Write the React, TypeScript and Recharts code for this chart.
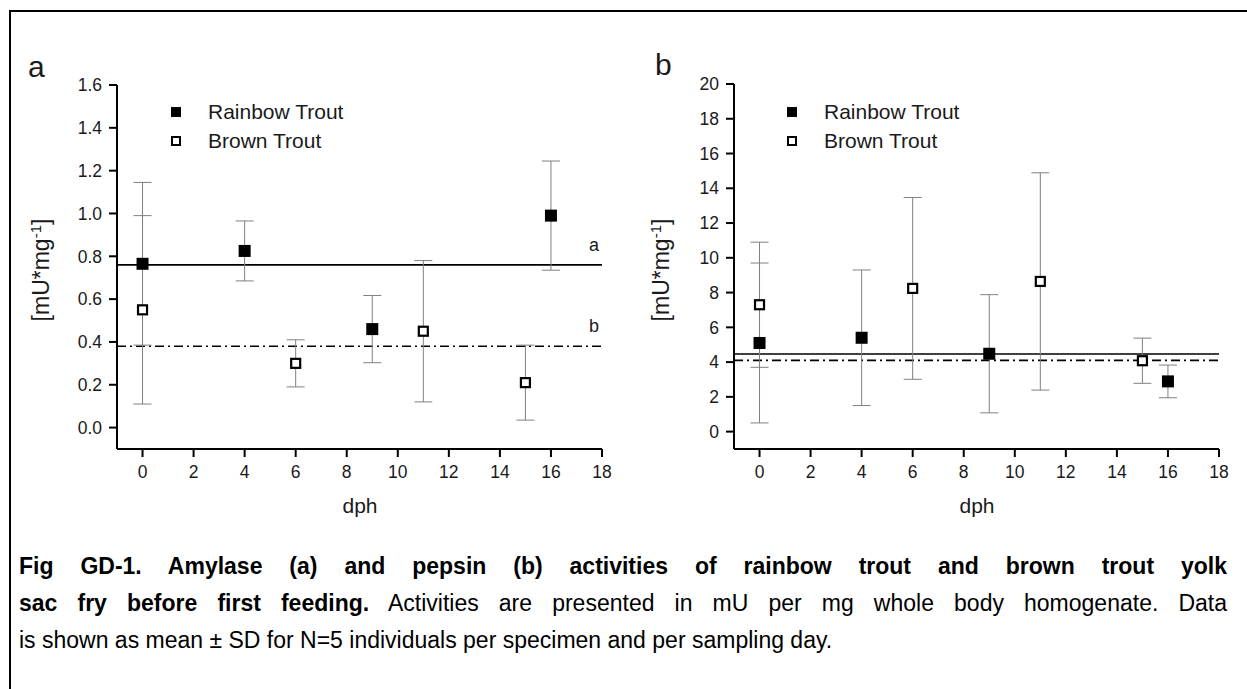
import React from "react";
import { ScatterChart, Scatter, XAxis, YAxis, ErrorBar, ReferenceLine } from "recharts";

const rainbowDays = [0, 4, 9, 16];
const brownDays = [0, 6, 11, 15];

// amylase (panel a), mU/mg, mean and SD
const amylaseRainbow = [0.765, 0.825, 0.46, 0.99];
const amylaseRainbowSd = [0.38, 0.14, 0.157, 0.255];
const amylaseBrown = [0.55, 0.3, 0.45, 0.21];
const amylaseBrownSd = [0.44, 0.11, 0.33, 0.175];
const amylaseMeans = [0.76, 0.38];

// pepsin (panel b)
const pepsinRainbow = [5.1, 5.4, 4.48, 2.89];
const pepsinRainbowSd = [4.6, 3.9, 3.4, 0.94];
const pepsinBrown = [7.3, 8.24, 8.64, 4.08];
const pepsinBrownSd = [3.6, 5.23, 6.25, 1.3];
const pepsinMeans = [4.47, 4.1];

const xTicks = [0, 2, 4, 6, 8, 10, 12, 14, 16, 18];
const amylaseTicks = [0, 0.2, 0.4, 0.6, 0.8, 1.0, 1.2, 1.4, 1.6];
const pepsinTicks = [0, 2, 4, 6, 8, 10, 12, 14, 16, 18, 20];

const FONT = "'Liberation Sans', Arial, sans-serif";
const INK = "#1a1a1a";

const toPoints = (xs: number[], ys: number[], sd: number[]) =>
  xs.map((x, i) => ({ x, y: ys[i], err: sd[i] }));

const FilledSquare = (p: any) => (
  <rect x={p.cx - 6} y={p.cy - 6} width={12} height={12} fill="#000" />
);
const OpenSquare = (p: any) => (
  <rect x={p.cx - 4.5} y={p.cy - 4.5} width={9} height={9} fill="#fff" stroke="#000" strokeWidth={2.2} />
);

const lineTag = (text: string) => (props: any) => {
  const vb = props.viewBox;
  return (
    <text x={vb.x + vb.width - 3} y={vb.y - 14} textAnchor="end" fontSize={18} fontFamily={FONT} fill={INK}>
      {text}
    </text>
  );
};

function Panel(props: {
  left: number;
  width: number;
  margin: { top: number; right: number; left: number; bottom: number };
  yDomain: [number, number];
  yTicks: number[];
  fmt: (v: number) => string;
  rainbow: { x: number; y: number; err: number }[];
  brown: { x: number; y: number; err: number }[];
  means: number[];
  tags: boolean;
}) {
  const axis = { stroke: "#000", strokeWidth: 2 };
  const tick = { fontSize: 17.5, fill: INK, fontFamily: FONT };
  return (
    <div style={{ position: "absolute", left: props.left, top: 0 }}>
      <ScatterChart width={props.width} height={540} margin={props.margin}>
        <XAxis
          type="number"
          dataKey="x"
          domain={[-1, 18]}
          ticks={xTicks}
          axisLine={axis}
          tickLine={axis}
          tickSize={8}
          tickMargin={9}
          tick={tick}
          allowDataOverflow
        />
        <YAxis
          type="number"
          dataKey="y"
          domain={props.yDomain}
          ticks={props.yTicks}
          tickFormatter={props.fmt}
          axisLine={axis}
          tickLine={axis}
          tickSize={8}
          tickMargin={7}
          tick={tick}
          width={60}
          allowDataOverflow
        />
        <ReferenceLine
          y={props.means[0]}
          stroke="#000"
          strokeWidth={1.6}
          label={props.tags ? lineTag("a") : undefined}
        />
        <ReferenceLine
          y={props.means[1]}
          stroke="#000"
          strokeWidth={1.6}
          strokeDasharray="9 4 2 4"
          label={props.tags ? lineTag("b") : undefined}
        />
        <Scatter data={props.rainbow} shape={FilledSquare} isAnimationActive={false}>
          <ErrorBar dataKey="err" direction="y" width={9} stroke="#808080" strokeWidth={1} />
        </Scatter>
        <Scatter data={props.brown} shape={OpenSquare} isAnimationActive={false}>
          <ErrorBar dataKey="err" direction="y" width={9} stroke="#808080" strokeWidth={1} />
        </Scatter>
      </ScatterChart>
    </div>
  );
}

function LegendBox({ left, top }: { left: number; top: number }) {
  const row = { display: "flex", alignItems: "center", height: 29 } as const;
  return (
    <div style={{ position: "absolute", left, top, fontFamily: FONT, fontSize: 21, color: INK }}>
      <div style={row}>
        <svg width={37} height={12}>
          <rect x={0} y={1} width={10} height={10} fill="#000" />
        </svg>
        <span>Rainbow Trout</span>
      </div>
      <div style={row}>
        <svg width={37} height={12}>
          <rect x={1} y={2} width={8} height={8} fill="#fff" stroke="#000" strokeWidth={2} />
        </svg>
        <span>Brown Trout</span>
      </div>
    </div>
  );
}

function YTitle({ cx, cy }: { cx: number; cy: number }) {
  return (
    <div
      style={{
        position: "absolute",
        left: cx - 100,
        top: cy - 14,
        width: 200,
        height: 28,
        lineHeight: "28px",
        textAlign: "center",
        transform: "rotate(-90deg)",
        fontFamily: FONT,
        fontSize: 23,
        color: INK,
      }}
    >
      [mU*mg<sup style={{ fontSize: 15, verticalAlign: "8px", lineHeight: 0 }}>-1</sup>]
    </div>
  );
}

const abs = (left: number, top: number, extra: React.CSSProperties = {}): React.CSSProperties => ({
  position: "absolute",
  left,
  top,
  fontFamily: FONT,
  color: INK,
  ...extra,
});

export default function App() {
  const capLine: React.CSSProperties = {
    fontFamily: FONT,
    fontSize: 23,
    lineHeight: "37px",
    height: 37,
    whiteSpace: "nowrap",
    textAlign: "justify",
    textAlignLast: "justify",
    color: "#000",
  };
  return (
    <div style={{ position: "absolute", left: 0, top: 0, width: 1247, height: 689, background: "#fff", overflow: "hidden" }}>
      <div style={{ position: "absolute", left: 9, top: 10, width: 1250, height: 700, borderTop: "2px solid #000", borderLeft: "2px solid #000" }} />

      <Panel
        left={0}
        width={640}
        margin={{ top: 85, right: 38, left: 57, bottom: 61 }}
        yDomain={[-0.1, 1.6]}
        yTicks={amylaseTicks}
        fmt={(v) => v.toFixed(1)}
        rainbow={toPoints(rainbowDays, amylaseRainbow, amylaseRainbowSd)}
        brown={toPoints(brownDays, amylaseBrown, amylaseBrownSd)}
        means={amylaseMeans}
        tags={true}
      />
      <Panel
        left={620}
        width={627}
        margin={{ top: 84, right: 28, left: 54, bottom: 61 }}
        yDomain={[-1, 20]}
        yTicks={pepsinTicks}
        fmt={(v) => String(v)}
        rainbow={toPoints(rainbowDays, pepsinRainbow, pepsinRainbowSd)}
        brown={toPoints(brownDays, pepsinBrown, pepsinBrownSd)}
        means={pepsinMeans}
        tags={false}
      />

      <div style={abs(28, 50, { fontSize: 30 })}>a</div>
      <div style={abs(655, 48, { fontSize: 30 })}>b</div>

      <LegendBox left={171} top={97} />
      <LegendBox left={787} top={97} />

      <YTitle cx={41} cy={270} />
      <YTitle cx={661} cy={270} />

      <div style={abs(310, 494, { fontSize: 21, width: 100, textAlign: "center" })}>dph</div>
      <div style={abs(927, 494, { fontSize: 21, width: 100, textAlign: "center" })}>dph</div>

      <div style={{ position: "absolute", left: 19, top: 548, width: 1208 }}>
        <div style={{ ...capLine, fontWeight: "bold" }}>
          Fig GD-1. Amylase (a) and pepsin (b) activities of rainbow trout and brown trout yolk
        </div>
        <div style={capLine}>
          <b>sac fry before first feeding.</b> Activities are presented in mU per mg whole body homogenate. Data
        </div>
        <div style={{ ...capLine, textAlignLast: "left" }}>
          is shown as mean ± SD for N=5 individuals per specimen and per sampling day.
        </div>
      </div>
    </div>
  );
}
